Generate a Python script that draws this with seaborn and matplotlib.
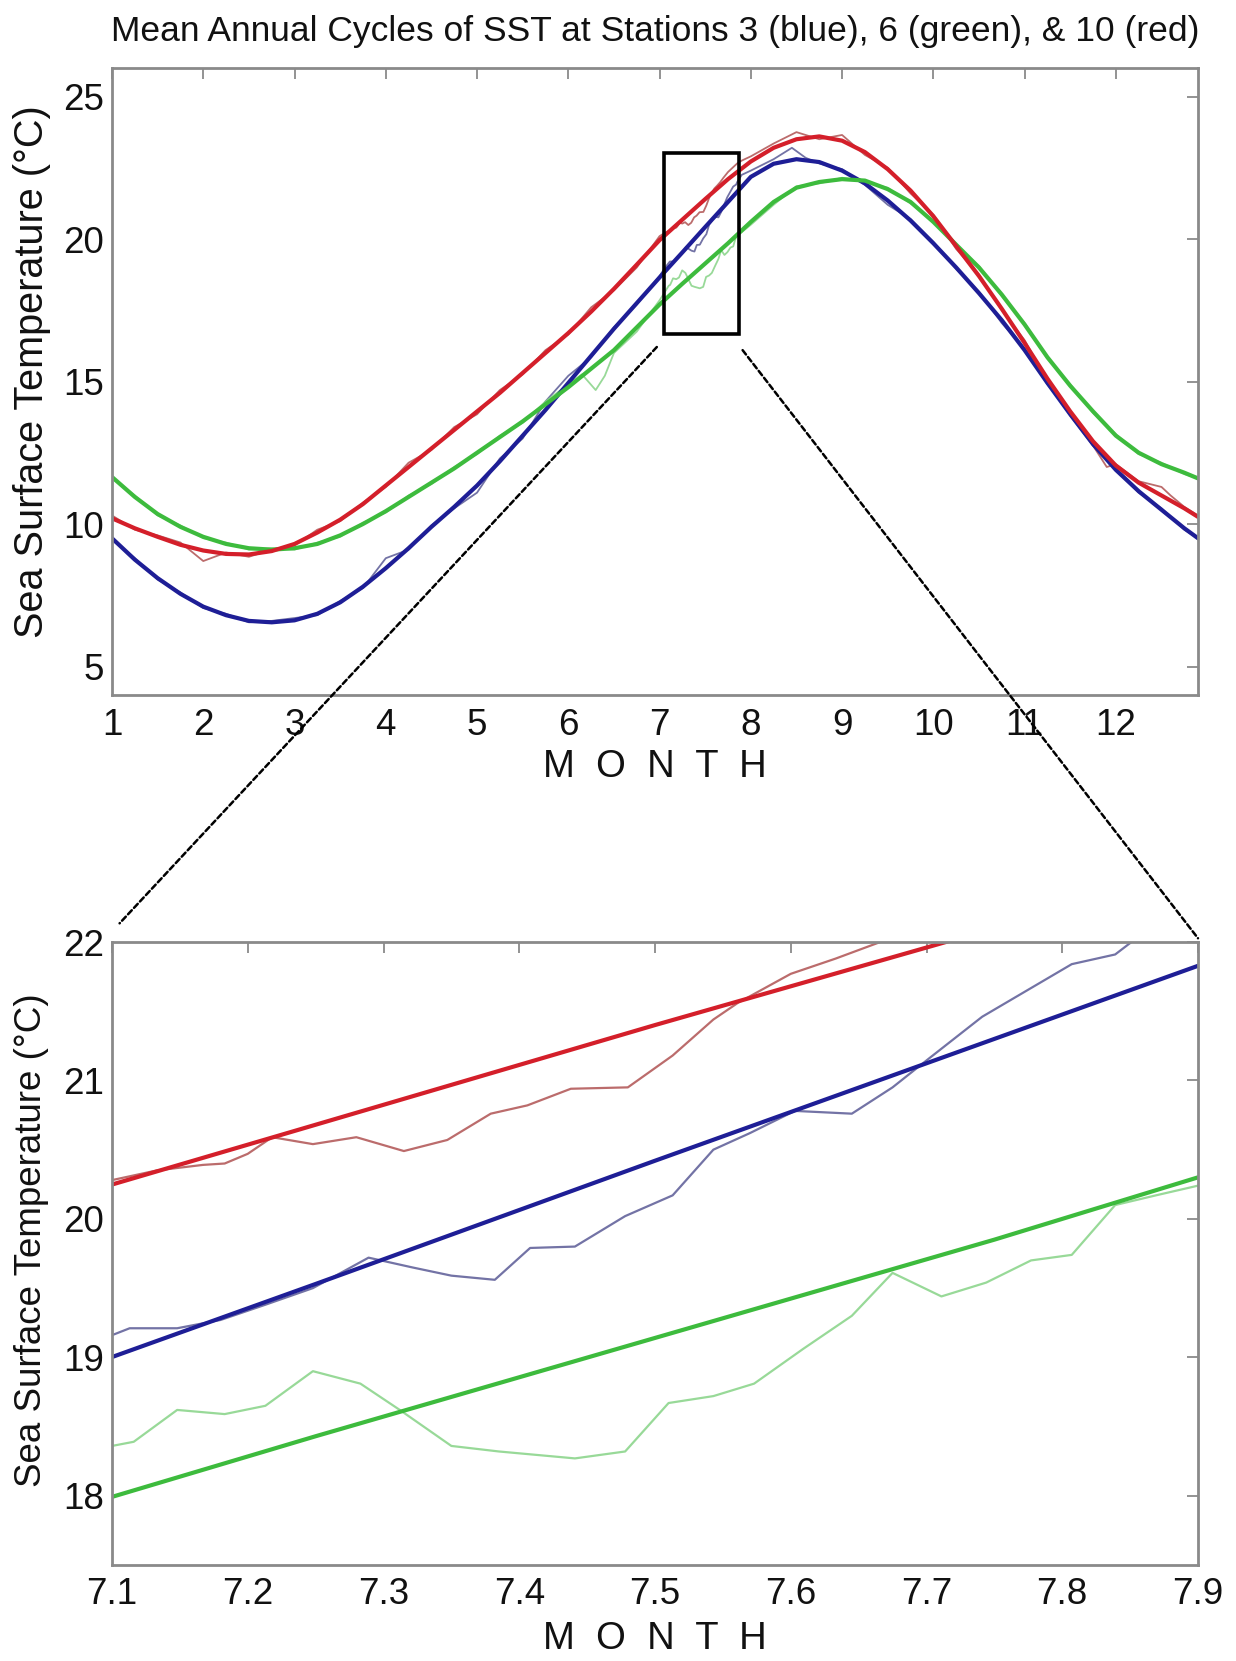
import numpy as np
import pandas as pd
import matplotlib
matplotlib.use("Agg")
import matplotlib.pyplot as plt
from matplotlib.patches import Rectangle, ConnectionPatch
import seaborn as sns

sns.set_style("white")
plt.rcParams["font.family"] = ["Liberation Sans", "DejaVu Sans"]

# ---------------------------------------------------------------------------
# Harmonic fits of the mean annual cycle (month, deg C)
fit_month = [1.0, 1.25, 1.5, 1.75, 2.0, 2.25, 2.5, 2.75, 3.0, 3.25, 3.5, 3.75,
             4.0, 4.25, 4.5, 4.75, 5.0, 5.25, 5.5, 5.75, 6.0, 6.25, 6.5, 6.75,
             7.0, 7.25, 7.5, 7.75, 8.0, 8.25, 8.5, 8.75, 9.0, 9.25, 9.5, 9.75,
             10.0, 10.25, 10.5, 10.75, 11.0, 11.25, 11.5, 11.75, 12.0, 12.25,
             12.5, 12.75, 12.9]
fit_st3 = [9.5, 8.75, 8.1, 7.55, 7.1, 6.8, 6.6, 6.55, 6.62, 6.85, 7.25, 7.8,
           8.45, 9.15, 9.9, 10.6, 11.35, 12.2, 13.1, 14.0, 14.95, 15.9, 16.85, 17.75,
           18.65, 19.53, 20.42, 21.30, 22.18, 22.64, 22.8, 22.7, 22.4, 21.95, 21.35, 20.65,
           19.85, 19.0, 18.1, 17.15, 16.1, 14.95, 13.85, 12.8, 11.9, 11.15,
           10.5, 9.85, 9.5]
fit_st6 = [11.65, 10.95, 10.35, 9.9, 9.55, 9.3, 9.15, 9.1, 9.15, 9.3, 9.6, 10.0,
           10.45, 10.95, 11.45, 11.95, 12.5, 13.05, 13.6, 14.2, 14.8, 15.45, 16.1, 16.9,
           17.7, 18.43, 19.14, 19.85, 20.6, 21.3, 21.8, 22.0, 22.1, 22.05, 21.75, 21.3,
           20.6, 19.8, 19.0, 18.05, 17.0, 15.85, 14.85, 13.95, 13.1, 12.5,
           12.1, 11.8, 11.6]
fit_st10 = [10.2, 9.85, 9.55, 9.27, 9.07, 8.95, 8.93, 9.05, 9.3, 9.7, 10.15, 10.7,
            11.35, 12.0, 12.65, 13.3, 13.95, 14.6, 15.3, 16.0, 16.7, 17.45, 18.25, 19.1,
            19.96, 20.68, 21.40, 22.10, 22.72, 23.2, 23.5, 23.6, 23.45, 23.05, 22.45, 21.7,
            20.8, 19.75, 18.7, 17.55, 16.35, 15.1, 13.95, 12.9, 12.05, 11.45,
            11.0, 10.55, 10.25]

# Observed daily-mean cycles (month, deg C)
raw_month_st3 = [1.0, 1.25, 1.5, 1.75, 2.0, 2.25, 2.5, 2.75, 3.0, 3.25, 3.5, 3.75,
                 4.0, 4.25, 4.5, 4.75, 5.0, 5.25, 5.5, 5.75, 6.0, 6.25, 6.5, 6.75,
                 7.0, 7.05,
                 7.10, 7.113, 7.148, 7.18, 7.213, 7.248, 7.289, 7.321, 7.35, 7.382,
                 7.408, 7.441, 7.478, 7.513, 7.543, 7.57, 7.603, 7.645, 7.675, 7.702,
                 7.741, 7.774, 7.807, 7.839, 7.851, 7.9,
                 8.0, 8.25, 8.45, 8.6, 8.75, 9.0, 9.25, 9.5, 9.75, 10.0, 10.25, 10.5,
                 10.75, 11.0, 11.25, 11.5, 11.75, 12.0, 12.25, 12.5, 12.75, 12.9]
raw_st3 = [9.45, 8.8, 8.05, 7.6, 7.05, 6.85, 6.55, 6.6, 6.7, 6.8, 7.3, 7.75,
           8.8, 9.1, 9.95, 10.55, 11.1, 12.3, 13.0, 14.3, 15.2, 15.85, 16.9, 17.7,
           18.7, 18.95,
           19.16, 19.21, 19.21, 19.27, 19.38, 19.50, 19.72, 19.65, 19.59, 19.56,
           19.79, 19.80, 20.02, 20.17, 20.50, 20.62, 20.78, 20.76, 20.95, 21.16,
           21.46, 21.65, 21.84, 21.91, 22.0, 22.25,
           22.4, 22.8, 23.2, 22.85, 22.65, 22.45, 21.9, 21.2, 20.7, 19.9, 18.95, 18.15,
           17.05, 16.15, 14.9, 13.9, 12.75, 11.95, 11.1, 10.55, 9.8, 9.5]

raw_month_st6 = [1.0, 1.25, 1.5, 1.75, 2.0, 2.25, 2.5, 2.75, 3.0, 3.25, 3.5, 3.75,
                 4.0, 4.25, 4.5, 4.75, 5.0, 5.25, 5.5, 5.75, 6.0, 6.15, 6.3, 6.4,
                 6.5, 6.75, 7.0, 7.05,
                 7.10, 7.116, 7.148, 7.183, 7.213, 7.248, 7.283, 7.312, 7.35, 7.385,
                 7.441, 7.478, 7.51, 7.543, 7.573, 7.609, 7.645, 7.675, 7.711, 7.744,
                 7.777, 7.807, 7.839, 7.869, 7.9,
                 8.0, 8.25, 8.5, 8.75, 9.0, 9.25, 9.5, 9.75, 10.0, 10.25, 10.5, 10.75,
                 11.0, 11.25, 11.5, 11.75, 12.0, 12.25, 12.5, 12.75, 12.9]
raw_st6 = [11.6, 11.0, 10.3, 9.95, 9.5, 9.35, 9.1, 9.15, 9.1, 9.35, 9.55, 10.05,
           10.4, 11.0, 11.4, 12.0, 12.45, 13.1, 13.55, 14.3, 14.9, 15.25, 14.7, 15.2,
           16.0, 16.75, 17.85, 18.1,
           18.36, 18.39, 18.62, 18.59, 18.65, 18.90, 18.81, 18.62, 18.36, 18.32,
           18.27, 18.32, 18.67, 18.72, 18.81, 19.06, 19.30, 19.61, 19.44, 19.54,
           19.70, 19.74, 20.10, 20.17, 20.24,
           20.5, 21.2, 21.85, 21.95, 22.15, 22.0, 21.8, 21.25, 20.65, 19.75, 19.05, 18.0,
           17.05, 15.8, 14.9, 13.9, 13.15, 12.45, 12.15, 11.75, 11.6]

raw_month_st10 = [1.0, 1.25, 1.5, 1.75, 2.0, 2.25, 2.5, 2.75, 3.0, 3.25, 3.5, 3.75,
                  4.0, 4.25, 4.5, 4.75, 5.0, 5.25, 5.5, 5.75, 6.0, 6.25, 6.5, 6.75,
                  7.0, 7.05,
                  7.10, 7.133, 7.167, 7.183, 7.20, 7.218, 7.248, 7.28, 7.315, 7.347,
                  7.379, 7.406, 7.438, 7.48, 7.513, 7.543, 7.561, 7.60, 7.633, 7.666,
                  7.70, 7.75, 7.80, 7.85, 7.9,
                  8.0, 8.25, 8.5, 8.75, 9.0, 9.25, 9.5, 9.75, 10.0, 10.25, 10.5, 10.75,
                  11.0, 11.25, 11.5, 11.75, 11.9, 12.0, 12.25, 12.5, 12.6, 12.75, 12.9]
raw_st10 = [10.3, 9.8, 9.6, 9.35, 8.7, 9.0, 8.85, 9.1, 9.25, 9.8, 10.1, 10.75,
            11.3, 12.15, 12.6, 13.4, 13.85, 14.7, 15.25, 16.1, 16.65, 17.6, 18.2, 19.0,
            20.1, 20.2,
            20.28, 20.35, 20.39, 20.40, 20.47, 20.59, 20.54, 20.59, 20.49, 20.57,
            20.76, 20.82, 20.94, 20.95, 21.18, 21.44, 21.56, 21.77, 21.88, 22.0,
            22.15, 22.35, 22.5, 22.65, 22.75,
            22.9, 23.35, 23.75, 23.5, 23.65, 22.95, 22.5, 21.6, 20.85, 19.65, 18.75, 17.5,
            16.45, 15.0, 13.8, 12.75, 12.0, 12.1, 11.5, 11.3, 11.0, 10.6, 10.3]

stations = ["3", "6", "10"]
fit_colors = {"3": "#1e1e96", "6": "#3dbb3d", "10": "#d41f2a"}
raw_colors = {"3": "#5a5a96", "6": "#86d386", "10": "#b05252"}

title = "Mean Annual Cycles of SST at Stations 3 (blue), 6 (green), & 10 (red)"
ylabel = "Sea Surface Temperature (°C)"
xlabel = "M  O  N  T  H"
top_xticks = [1, 2, 3, 4, 5, 6, 7, 8, 9, 10, 11, 12]
top_yticks = [5, 10, 15, 20, 25]
zoom_xticks = [7.1, 7.2, 7.3, 7.4, 7.5, 7.6, 7.7, 7.8, 7.9]
zoom_yticks = [18, 19, 20, 21, 22]

# Long tables for seaborn
fit_df = pd.concat([
    pd.DataFrame({"month": fit_month, "sst": v, "station": s})
    for s, v in zip(stations, [fit_st3, fit_st6, fit_st10])
], ignore_index=True)
raw_df = pd.concat([
    pd.DataFrame({"month": m, "sst": v, "station": s})
    for s, m, v in zip(stations,
                       [raw_month_st3, raw_month_st6, raw_month_st10],
                       [raw_st3, raw_st6, raw_st10])
], ignore_index=True)

W, H = 1236, 1661
fig = plt.figure(figsize=(W / 100, H / 100), dpi=100)


def px_axes(left, top, right, bottom):
    return fig.add_axes([left / W, 1 - bottom / H, (right - left) / W, (bottom - top) / H])


ax1 = px_axes(112, 68, 1198, 695)
ax2 = px_axes(112, 942, 1198, 1565)

for ax, raw_lw, fit_lw in [(ax1, 1.3, 3.0), (ax2, 1.6, 3.0)]:
    sns.lineplot(data=raw_df, x="month", y="sst", hue="station", hue_order=stations,
                 palette=raw_colors, estimator=None, sort=True, lw=raw_lw,
                 alpha=0.85, legend=False, ax=ax)
    sns.lineplot(data=fit_df, x="month", y="sst", hue="station", hue_order=stations,
                 palette=fit_colors, estimator=None, sort=True, lw=fit_lw,
                 legend=False, ax=ax)

ax1.set_xlim(1, 12.9)
ax1.set_ylim(4, 26)
ax1.set_xticks(top_xticks)
ax1.set_yticks(top_yticks)

ax2.set_xlim(7.1, 7.9)
ax2.set_ylim(17.5, 22)
ax2.set_xticks(zoom_xticks)
ax2.set_xticklabels([f"{t:.1f}" for t in zoom_xticks])
ax2.set_yticks(zoom_yticks)

for ax in (ax1, ax2):
    ax.set_xlabel("")
    ax.set_ylabel("")
    for sp in ax.spines.values():
        sp.set_color("#8a8a8a")
        sp.set_linewidth(2.0)
        sp.set_visible(True)
    ax.tick_params(direction="in", top=True, right=True, length=8, width=1.3,
                   color="#8a8a8a", labelsize=26.5, labelcolor="#111111")
    ax.tick_params(axis="x", pad=9)
    ax.tick_params(axis="y", pad=6)

# Zoom window marker and connectors
ax1.add_patch(Rectangle((7.05, 16.67), 0.82, 6.35, fill=False, lw=2.6,
                        ec="black", zorder=6))
for xyA, xyB in [((6.97, 16.21), (0.007, 1.03)), ((7.91, 16.1), (1.0, 1.006))]:
    con = ConnectionPatch(xyA=xyA, coordsA=ax1.transData, xyB=xyB, coordsB=ax2.transAxes,
                          color="black", lw=1.8, linestyle=(0, (2.2, 1.3)), zorder=10)
    fig.add_artist(con)

# Text
fig.text(655 / W, 1 - 32 / H, title, ha="center", va="center", fontsize=25.5, color="#111111")
fig.text(32 / W, 1 - 372 / H, ylabel, rotation=90, ha="center", va="center",
         fontsize=28.5, color="#111111")
fig.text(32 / W, 1 - 1240 / H, ylabel, rotation=90, ha="center", va="center",
         fontsize=26.5, color="#111111")
fig.text(655 / W, 1 - 767 / H, xlabel, ha="center", va="center", fontsize=27.5, color="#111111")
fig.text(655 / W, 1 - 1639 / H, xlabel, ha="center", va="center", fontsize=27.5, color="#111111")

fig.savefig("out.png", dpi=100, facecolor="white")
